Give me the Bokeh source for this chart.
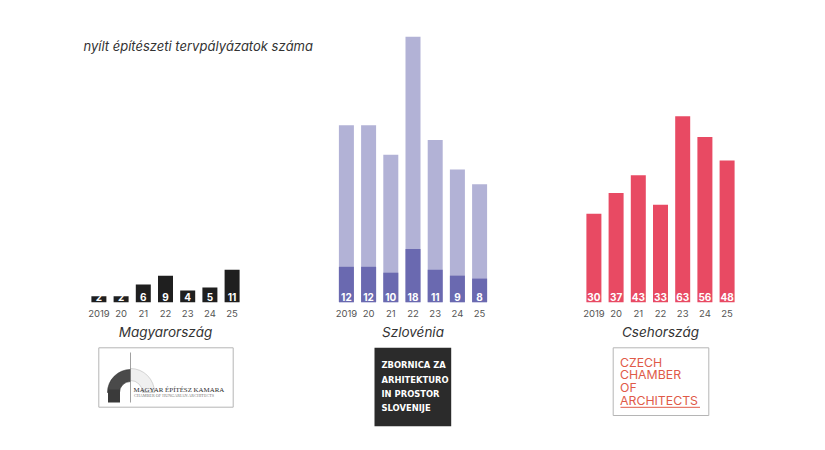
from bokeh.plotting import figure
from bokeh.models import Range1d, ColumnDataSource
from bokeh.core.properties import value
from bokeh.embed import file_html
from bokeh.resources import INLINE

# --- data -------------------------------------------------------------
title = "nyílt építészeti tervpályázatok száma"
years = ["2019", "20", "21", "22", "23", "24", "25"]
countries = ["Magyarország", "Szlovénia", "Csehország"]

hu_open = [2, 2, 6, 9, 4, 5, 11]          # Hungary: open competitions
si_open = [12, 12, 10, 18, 11, 9, 8]      # Slovenia: open competitions
si_all = [60, 60, 50, 90, 55, 45, 40]     # Slovenia: all competitions
cz_open = [30, 37, 43, 33, 63, 56, 48]    # Czechia: open competitions

# --- layout -----------------------------------------------------------
W, H = 825, 450
BASE_PX = 301.7          # page row of the common baseline
PX_PER_UNIT = 2.95       # vertical scale
TEXT_LIFT = 3.5          # text glyphs sit a little low; lift them
GROUP_CENTERS = [165.0, 412.5, 660.0]
SLOT = 22.2
BAR_W = 15

HU_COLOR = "#1f1f1f"
SI_LIGHT = "#b2b2d6"
SI_DARK = "#6a69b0"
CZ_COLOR = "#e84a63"
TEXT_DARK = "#333333"
TEXT_GREY = "#555555"
FONT = value("Inter")


def vy(px):
    """Page row (from the top) -> value units on the y range."""
    return (BASE_PX - px) / PX_PER_UNIT


def ty(px):
    """Baseline row for text glyphs."""
    return vy(px - TEXT_LIFT)


def slots(center, n):
    return [center + (i - (n - 1) / 2) * SLOT for i in range(n)]


p = figure(width=W, height=H, x_range=Range1d(0, W),
           y_range=Range1d(vy(H), vy(0)),
           x_axis_type=None, y_axis_type=None,
           output_backend="svg", toolbar_location=None,
           min_border=0, outline_line_color=None,
           background_fill_color="white", border_fill_color="white")
p.grid.visible = False

groups = [
    (hu_open, None, HU_COLOR),
    (si_open, si_all, SI_DARK),
    (cz_open, None, CZ_COLOR),
]

for (vals, back, color), center, name in zip(groups, GROUP_CENTERS, countries):
    xs = slots(center, len(vals))
    if back is not None:
        p.vbar(x=xs, top=back, bottom=0, width=BAR_W,
               fill_color=SI_LIGHT, line_color=None)
    p.vbar(x=xs, top=vals, bottom=0, width=BAR_W,
           fill_color=color, line_color=None)
    # value labels sitting at the foot of each bar
    src = ColumnDataSource(dict(x=xs, y=[ty(300.2)] * len(vals),
                                t=[str(v) for v in vals]))
    p.text(x="x", y="y", text="t", source=src, text_align="center",
           text_baseline="alphabetic", text_font=FONT,
           text_font_style="bold", text_font_size="10px",
           text_color="white")
    # year ticks
    ysrc = ColumnDataSource(dict(x=xs, y=[ty(316.3)] * len(years), t=years))
    p.text(x="x", y="y", text="t", source=ysrc, text_align="center",
           text_baseline="alphabetic", text_font=FONT,
           text_font_size="9.5px", text_color=TEXT_GREY)

# country names
p.text(x=GROUP_CENTERS, y=[ty(334.5)] * 3, text=countries,
       text_align="center", text_baseline="alphabetic", text_font=FONT,
       text_font_style="italic", text_font_size="13.5px",
       text_color=TEXT_DARK)

# chart title
p.text(x=[83], y=[ty(48.5)], text=[title], text_align="left",
       text_baseline="alphabetic", text_font=FONT,
       text_font_style="italic", text_font_size="13px",
       text_color=TEXT_DARK)

# --- chamber logos ----------------------------------------------------
# Hungarian Chamber of Architects
p.quad(left=[98.3], right=[232.7], top=[vy(347.3)], bottom=[vy(406.7)],
       fill_color="white", line_color="#b5b5b5", line_width=1)
p.annular_wedge(x=[130], y=[vy(392)], inner_radius=12, outer_radius=24,
                start_angle=0, end_angle=90, start_angle_units="deg",
                end_angle_units="deg", fill_color="#f0f0f0",
                line_color="#bbbbbb", line_width=0.6)
p.annular_wedge(x=[130], y=[vy(392)], inner_radius=11, outer_radius=23,
                start_angle=90, end_angle=180, start_angle_units="deg",
                end_angle_units="deg", fill_color="#4a4a4a",
                line_color="#2a2a2a", line_width=0.6)
p.quad(left=[107.5], right=[119.5], top=[vy(389)], bottom=[vy(402)],
       fill_color="#3a3a3a", line_color=None)
p.segment(x0=[130], y0=[vy(352)], x1=[130], y1=[vy(402)],
          line_color="#888888", line_width=0.8)
p.text(x=[133], y=[ty(392.5)], text=["MAGYAR ÉPÍTÉSZ KAMARA"],
       text_align="left", text_baseline="alphabetic",
       text_font=value("Liberation Serif"), text_font_size="6.9px",
       text_color="#2a2a2a")
p.text(x=[133.5], y=[ty(398.2)], text=["CHAMBER OF HUNGARIAN ARCHITECTS"],
       text_align="left", text_baseline="alphabetic",
       text_font=value("Liberation Serif"), text_font_size="4.2px",
       text_color="#777777")

# Slovenian Chamber of Architecture and Spatial Planning
p.quad(left=[374], right=[450.7], top=[vy(347.3)], bottom=[vy(425.7)],
       fill_color="#2b2b2b", line_color=None)
si_lines = ["ZBORNICA ZA", "ARHITEKTURO", "IN PROSTOR", "SLOVENIJE"]
p.text(x=[381] * 4, y=[ty(368.2 + 14.3 * i) for i in range(4)],
       text=si_lines, text_align="left", text_baseline="alphabetic",
       text_font=value("DejaVu Sans"), text_font_style="bold",
       text_font_size="8.4px", text_color="white")

# Czech Chamber of Architects
p.quad(left=[612.7], right=[708.3], top=[vy(347.3)], bottom=[vy(415)],
       fill_color="white", line_color="#b5b5b5", line_width=1)
cz_lines = ["CZECH", "CHAMBER", "OF", "ARCHITECTS"]
p.text(x=[619.5] * 4, y=[ty(365.2 + 12.75 * i) for i in range(4)],
       text=cz_lines, text_align="left", text_baseline="alphabetic",
       text_font=value("Inter"), text_font_size="12.3px",
       text_color="#e05a48")
p.segment(x0=[620], y0=[vy(406.8)], x1=[699.5], y1=[vy(406.8)],
          line_color="#e05a48", line_width=1)

open("out.html", "w").write(file_html(p, INLINE))
